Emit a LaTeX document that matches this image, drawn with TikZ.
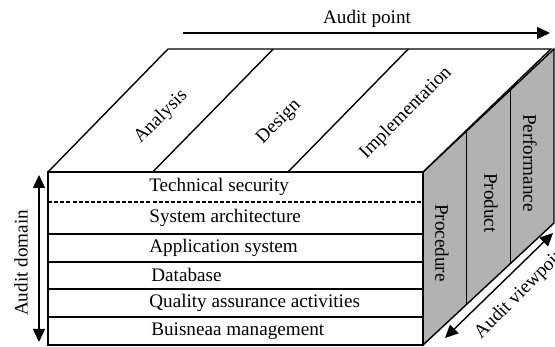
\documentclass[tikz,border=0pt]{standalone}
\usepackage{fontspec}
\setmainfont{Liberation Serif}
\usetikzlibrary{arrows.meta,calc}

\begin{document}
\begin{tikzpicture}[x=0.02cm, y=-0.02cm,
		every node/.style={font=\fontsize{10.9}{13}\selectfont, inner sep=0pt},
		edge/.style={line width=0.8pt},
		arr/.style={line width=0.8pt, -{Triangle[length=0.26cm, width=0.24cm]}},
		twoarr/.style={line width=0.8pt, {Triangle[length=0.26cm, width=0.24cm]}-{Triangle[length=0.26cm, width=0.24cm]}}]
			%%%%% START %%%%%
			\useasboundingbox (0,0) rectangle (555,347);
			
			\coordinate (ftl) at (48,172);
			\coordinate (ftr) at (423,172);
			\coordinate (fbl) at (48,345);
			\coordinate (fbr) at (423,345);
			\coordinate (btl) at (168,49);
			\coordinate (btr) at (551,49);
			\coordinate (rtr) at (554,49);
			\coordinate (rbr) at (554,223);
			
			% right face
			\draw[edge, fill=black!30] (ftr) -- (rtr) -- (rbr) -- (fbr) -- cycle;
			\draw[edge] ($(ftr)!1/3!(rtr)$) -- ($(fbr)!1/3!(rbr)$);
			\draw[edge] ($(ftr)!2/3!(rtr)$) -- ($(fbr)!2/3!(rbr)$);
			
			% top face
			\draw[edge, fill=white] (ftl) -- (btl) -- (btr) -- (ftr);
			\draw[edge] (152.7,172) -- (273.3,49);
			\draw[edge] (288,172) -- (408.3,49);
			
			% front face
			\draw[edge, fill=white] (ftl) rectangle (fbr);
			\draw[edge, dash pattern=on 2.3pt off 1.2pt] (48,202) -- (423,202);
			\draw[edge] (48,234) -- (423,234);
			\draw[edge] (48,262) -- (423,262);
			\draw[edge] (48,289) -- (423,289);
			\draw[edge] (48,317) -- (423,317);
			
			\node[anchor=west] (tech) at (149,187) {Technical security};
			\node[anchor=west] (arch) at (149,218) {System architecture};
			\node[anchor=west] (appl) at (149,248) {Application system};
			\node[anchor=west] (dbase) at (151,275) {Database};
			\node[anchor=west] (qual) at (149,303) {Quality assurance activities};
			\node[anchor=west] (buis) at (151,331) {Buisneaa management};
			
			\node[rotate=45] (ana) at (161,117) {Analysis};
			\node[rotate=45] (des) at (279,122) {Design};
			\node[rotate=45] (impl) at (406,113) {Implementation};
			
			\node[rotate=-90] (proc) at (442,243) {Procedure};
			\node[rotate=-90] (prod) at (491,203) {Product};
			\node[rotate=-90] (perf) at (530,163) {Performance};
			
			% axes
			\coordinate (pt1) at (183,33);
			\coordinate (pt2) at (550,33);
			\draw[arr] (pt1) -- (pt2);
			\node (apoint) at (367,19) {Audit point};
			
			\coordinate (dm1) at (39,175);
			\coordinate (dm2) at (39,342);
			\draw[twoarr] (dm1) -- (dm2);
			\node[rotate=90] (adomain) at (21,263) {Audit domain};
			
			\coordinate (vp1) at (445,338);
			\coordinate (vp2) at (553,233);
			\draw[twoarr] (vp1) -- (vp2);
			\node[rotate=45] (aview) at (522,292) {Audit viewpoint};
			
			%%%%% END %%%%%
		\end{tikzpicture}
\end{document}
